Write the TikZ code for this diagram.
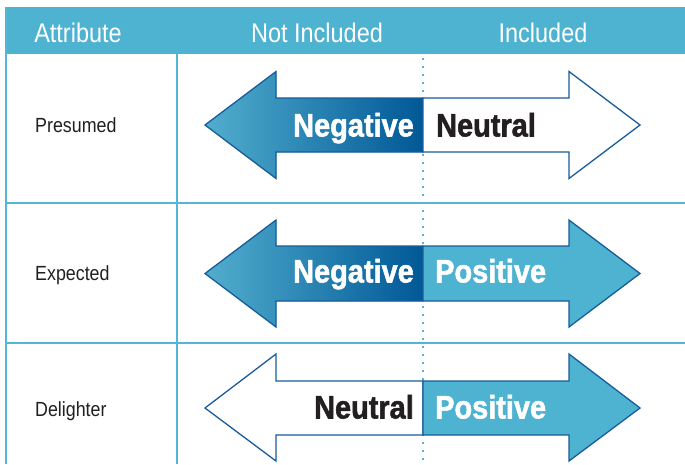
\documentclass[tikz,border=0pt]{standalone}
\usepackage{fontspec}
\usepackage{tikz}
\usetikzlibrary{positioning, calc, backgrounds}
\usepackage{xcolor}
\newfontfamily\condfont[FakeStretch=0.87]{Liberation Sans}
\newfontfamily\heavyfont[FakeStretch=0.89, FakeBold=1.6]{Liberation Sans Bold}
\definecolor{headBlue}{RGB}{78, 178, 209}
\definecolor{lineBlue}{RGB}{84, 182, 212}
\definecolor{edgeBlue}{RGB}{24, 92, 154}
\definecolor{negLight}{RGB}{82, 174, 206}
\definecolor{negDark}{RGB}{0, 88, 150}
\definecolor{labelGray}{RGB}{35, 31, 32}

\begin{document}
\begin{tikzpicture}[
    x=1pt, y=-1pt,
    % Header text style
    headtxt/.style={
        font=\condfont\fontsize{27}{29}\selectfont,
        text=white,
        anchor=base,
        inner sep=0pt
    },
    % Row label style
    rowlabel/.style={
        font=\condfont\fontsize{20.5}{23}\selectfont,
        text=labelGray,
        anchor=base west,
        inner sep=0pt
    },
    % Text inside the arrows
    arrowtxt/.style={
        font=\heavyfont\fontsize{32.5}{34}\selectfont,
        text=#1,
        anchor=base,
        inner sep=0pt
    },
    % Table rules
    rule/.style={
        draw=lineBlue,
        line width=2pt
    },
    % Half arrow outline
    halfarrow/.style={
        draw=edgeBlue,
        line width=1.3pt,
        line join=miter,
        fill=#1
    }
]
\useasboundingbox (0,0) rectangle (685,464);

% ============================================
% TABLE: HEADER AND RULES
% ============================================
\fill[headBlue] (5,7) rectangle (685,54);
\draw[rule] (6,7) -- (6,464);
\draw[rule] (177,54) -- (177,464);
\draw[rule] (5,203) -- (685,203);
\draw[rule] (5,343) -- (685,343);

% Dotted split between the two columns
\draw[lineBlue, line width=2pt, dash pattern=on 2pt off 6pt] (422.5,58) -- (422.5,464);

\node[headtxt] (attr) at (78,42) {Attribute};
\node[headtxt] (notincl) at (317,42) {Not Included};
\node[headtxt] (incl) at (543,42) {Included};

% ============================================
% ROW 1: PRESUMED
% ============================================
\node[rowlabel] (presumed) at (35,132) {Presumed};

\shade[halfarrow=negDark, left color=negLight, right color=negDark]
    (423,98) -- (276,98) -- (276,71.5) -- (205,125) -- (276,178.5) -- (276,152) -- (423,152) -- cycle;
\draw[halfarrow=white]
    (423,98) -- (569,98) -- (569,71.5) -- (640,125) -- (569,178.5) -- (569,152) -- (423,152) -- cycle;

\node[arrowtxt=white, anchor=base east] (neg1) at (414,136.5) {Negative};
\node[arrowtxt=labelGray, anchor=base west] (neu1) at (436,136.5) {Neutral};

% ============================================
% ROW 2: EXPECTED
% ============================================
\node[rowlabel] (expected) at (35,280) {Expected};

\shade[halfarrow=negDark, left color=negLight, right color=negDark]
    (423,246) -- (276,246) -- (276,220) -- (205,273.5) -- (276,327) -- (276,301) -- (423,301) -- cycle;
\draw[halfarrow=headBlue]
    (423,246) -- (569,246) -- (569,220) -- (640,273.5) -- (569,327) -- (569,301) -- (423,301) -- cycle;

\node[arrowtxt=white, anchor=base east] (neg2) at (414,282.5) {Negative};
\node[arrowtxt=white, anchor=base west] (pos2) at (435,282.5) {Positive};

% ============================================
% ROW 3: DELIGHTER
% ============================================
\node[rowlabel] (delighter) at (35,416) {Delighter};

\draw[halfarrow=white]
    (423,381) -- (276,381) -- (276,354) -- (205,408) -- (276,461) -- (276,435) -- (423,435) -- cycle;
\draw[halfarrow=headBlue]
    (423,381) -- (569,381) -- (569,354) -- (640,408) -- (569,461) -- (569,435) -- (423,435) -- cycle;

\node[arrowtxt=labelGray, anchor=base east] (neu3) at (414,418.5) {Neutral};
\node[arrowtxt=white, anchor=base west] (pos3) at (435,418.5) {Positive};

\end{tikzpicture}
\end{document}
